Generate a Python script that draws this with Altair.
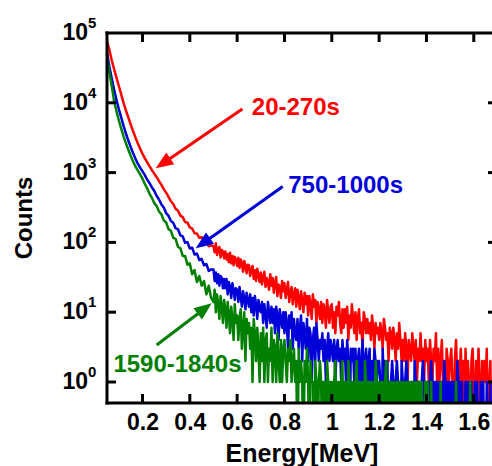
import math
import altair as alt
import pandas as pd

# ---------------- data ----------------
# 0.05 .. 0.49 MeV in 0.01 MeV bins, then 0.50 .. 1.68 MeV in 0.005 MeV bins
COARSE_START, COARSE_STEP, COARSE_N = 0.05, 0.01, 45
FINE_START, FINE_STEP = 0.50, 0.005

RED_20_270 = [
    # coarse 0.05-0.49
    75900, 57500, 40700, 30200, 22900, 17400, 13200, 10000, 7760, 6170,
    4900, 3940, 3200, 2630, 2190, 1860, 1600, 1400, 1230, 1085,
    960, 860, 755, 668, 578, 517, 450, 389, 355, 303,
    284, 242, 230, 196, 192, 164, 158, 135, 134, 116,
    119, 101, 104, 88, 90,
    # fine 0.50-1.68
    88, 72, 97, 66, 80, 86, 61, 78, 74, 59,
    74, 57, 68, 52, 71, 50, 64, 47, 62, 56,
    46, 60, 43, 57, 51, 38, 54, 47, 36, 48,
    47, 33, 41, 46, 30, 40, 28, 42, 34, 27,
    37, 25, 32, 38, 23, 31, 27, 21, 35, 24,
    31, 19, 26, 32, 17, 25, 23, 16, 28, 20,
    26, 16, 21, 27, 14, 19, 23, 13, 18, 22,
    12, 21, 16, 11, 20, 15, 10, 19, 13, 17,
    9, 17, 13, 8, 18, 12, 15, 7, 14, 11,
    8, 14, 7, 13, 11, 6, 15, 10, 7, 12,
    13, 6, 10, 5, 12, 9, 14, 7, 5, 11,
    6, 11, 7, 12, 4, 9, 6, 13, 8, 5,
    10, 4, 8, 11, 5, 7, 3, 10, 8, 5,
    8, 5, 7, 4, 9, 6, 3, 7, 5, 6,
    4, 7, 5, 3, 8, 6, 4, 5, 2, 6,
    5, 3, 6, 4, 2, 5, 3, 7, 4, 2,
    4, 2, 5, 3, 1, 4, 3, 2, 5, 3,
    2, 4, 1, 3, 2, 5, 2, 3, 1, 4,
    2, 3, 1, 4, 2, 1, 3, 2, 5, 1,
    3, 1, 2, 4, 1, 2, 0, 3, 2, 1,
    2, 3, 1, 0, 2, 4, 1, 2, 1, 3,
    1, 2, 0, 3, 1, 2, 1, 0, 2, 3,
    1, 0, 2, 1, 3, 1, 0, 2, 1, 2,
    1, 3, 0, 1, 2, 0, 1,
]
BLUE_750_1000 = [
    52500, 33100, 22400, 15500, 11000, 8130, 6170, 4680, 3630, 2880,
    2340, 1905, 1590, 1345, 1180, 1040, 920, 790, 705, 610,
    545, 462, 412, 349, 315, 262, 240, 203, 191, 160,
    154, 126, 122, 99, 101, 82, 84, 67, 69, 56,
    58, 47, 49, 39, 41,
    41, 28, 37, 26, 35, 24, 33, 31, 22, 30,
    22, 30, 18, 27, 23, 16, 26, 21, 15, 22,
    21, 14, 23, 17, 12, 20, 16, 11, 19, 15,
    12, 18, 10, 16, 9, 17, 13, 8, 15, 11,
    10, 14, 7, 13, 9, 6, 14, 10, 7, 12,
    7, 11, 5, 12, 9, 4, 11, 8, 6, 10,
    5, 10, 7, 3, 9, 6, 10, 3, 8, 5,
    4, 8, 3, 6, 9, 2, 7, 5, 3, 8,
    2, 6, 5, 1, 4, 6, 2, 7, 4, 2,
    4, 3, 5, 2, 4, 1, 3, 5, 2, 4,
    3, 2, 4, 1, 3, 4, 2, 3, 1, 4,
    2, 3, 1, 4, 2, 0, 3, 2, 3, 1,
    3, 1, 2, 3, 0, 2, 4, 1, 2, 3,
    1, 2, 3, 0, 2, 1, 3, 2, 1, 2,
    2, 1, 0, 3, 1, 2, 1, 2, 0, 1,
    1, 2, 1, 0, 1, 2, 1, 1, 0, 2,
    1, 0, 1, 2, 1, 1, 0, 1, 1, 0,
    2, 1, 0, 1, 1, 0, 1, 2, 1, 0,
    1, 1, 0, 1, 2, 1, 0, 1, 1, 0,
    1, 0, 1, 1, 0, 2, 1, 0, 1, 1,
    0, 1, 1, 0, 1, 0, 2, 1, 0, 1,
    1, 0, 0, 1, 1, 0, 1, 0, 1, 0,
    0, 1, 0, 1, 0, 0, 1, 0, 1, 0,
    0, 1, 0, 0, 1, 0, 0,
]
GREEN_1590_1840 = [
    45700, 27500, 17400, 10500, 7590, 5620, 4270, 3310, 2630, 2140,
    1740, 1450, 1225, 1075, 940, 818, 688, 594, 496, 433,
    365, 331, 276, 253, 207, 193, 155, 147, 116, 112,
    86, 83, 64, 64, 48, 50, 35, 40, 27, 33,
    24, 28, 18, 24, 16,
    14, 21, 10, 18, 13, 8, 17, 12, 7, 15,
    11, 6, 14, 9, 5, 12, 8, 4, 13, 7,
    9, 4, 8, 11, 3, 6, 10, 2, 8, 5,
    7, 3, 6, 1, 8, 5, 2, 6, 3, 1,
    5, 2, 6, 1, 4, 5, 1, 3, 2, 6,
    1, 4, 3, 1, 5, 2, 1, 4, 1, 3,
    4, 2, 1, 3, 2, 4, 1, 2, 3, 1,
    2, 0, 3, 1, 2, 1, 0, 2, 1, 3,
    1, 0, 2, 1, 1, 0, 2, 1, 0, 1,
    2, 1, 0, 1, 1, 0, 2, 1, 0, 1,
    1, 0, 1, 2, 0, 1, 1, 0, 1, 2,
    0, 1, 1, 0, 2, 1, 0, 1, 1, 0,
    1, 2, 0, 1, 1, 0, 1, 0, 2, 1,
    0, 1, 1, 0, 1, 1, 0, 2, 1, 0,
    1, 0, 1, 1, 0, 1, 2, 0, 1, 0,
    1, 1, 0, 1, 0, 1, 1, 0, 1, 0,
    1, 0, 1, 0, 1, 1, 0, 1, 0, 1,
    0, 1, 0, 1, 1, 0, 1, 0, 0, 1,
    0, 1, 0, 0, 1, 0, 0, 0, 0, 0,
    0, 0, 1, 0, 0, 0, 0, 0, 0, 0,
    0, 0, 0, 0, 0, 1, 0, 0, 0, 0,
    0, 0, 0, 0, 0, 0, 0, 1, 0, 0,
    0, 0, 0, 0, 0, 0, 0, 0, 0, 0,
    0, 0, 0, 0, 0, 0, 0,
]

SERIES_NAMES = ["20-270s", "750-1000s", "1590-1840s"]
SERIES_COLORS = ["#FF0000", "#0000D8", "#008000"]

# annotation text anchors (energy, counts)
LABEL_E = [0.662, 0.816, 0.077]
LABEL_C = [8510, 643, 1.75]
# arrows: tail and tip (energy, counts), head angle in degrees
ARROW_TAIL_E = [0.622, 0.7926, 0.260]
ARROW_TAIL_C = [8150, 634, 3.39]
ARROW_TIP_E = [0.2558, 0.4249, 0.4925]
ARROW_TIP_C = [1153, 82.2, 13.4]
ARROW_ANGLE = [235.7, 234.7, 52.8]

X_TICKS = [0.2, 0.4, 0.6, 0.8, 1.0, 1.2, 1.4, 1.6]
Y_DECADES = [1, 10, 100, 1000, 10000, 100000]
Y_EXPONENTS = ["0", "1", "2", "3", "4", "5"]

# ---------------- layout ----------------
W, H = 385, 370
FONT = "Liberation Sans"
X_DOMAIN = [0.05, 1.677]
Y_DOMAIN = [0.5, 100000]

XS = alt.Scale(domain=X_DOMAIN, nice=False, zero=False)
YS = alt.Scale(type="log", domain=Y_DOMAIN, nice=False)
XAX = alt.Axis(values=X_TICKS, format="~g", ticks=False, tickSize=0, domain=False,
               grid=False, labelFont=FONT, labelFontSize=23, labelFontWeight="bold",
               labelColor="black", labelPadding=8, labelFlush=False,
               labelOverlap=False, title=None)


def X(f):
    return alt.X(f, type="quantitative", scale=XS, axis=XAX)


def Y(f):
    return alt.Y(f, type="quantitative", scale=YS, axis=None)


def energies(n):
    coarse = [round(COARSE_START + i * COARSE_STEP, 4) for i in range(COARSE_N)]
    fine = [round(FINE_START + i * FINE_STEP, 4) for i in range(n - COARSE_N)]
    return coarse + fine


layers = []
for name, vals, col in zip(SERIES_NAMES, [RED_20_270, BLUE_750_1000, GREEN_1590_1840],
                           SERIES_COLORS):
    df = pd.DataFrame({"energy": energies(len(vals)), "counts": vals})
    layers.append(
        alt.Chart(df)
        .transform_calculate(c="datum.counts > 0 ? datum.counts : 0.05")
        .mark_line(clip=True, color=col, strokeWidth=2.5, strokeJoin="round")
        .encode(x=X("energy"), y=Y("c"))
    )

one = pd.DataFrame({"a": [0]})
frame = [
    alt.Chart(one).mark_rule(color="black", strokeWidth=3, strokeCap="square")
    .encode(x=alt.value(0), y=alt.value(0), y2=alt.value(H)),
    alt.Chart(one).mark_rule(color="black", strokeWidth=3, strokeCap="square")
    .encode(x=alt.value(0), x2=alt.value(W + 2), y=alt.value(0)),
    alt.Chart(one).mark_rule(color="black", strokeWidth=3, strokeCap="square")
    .encode(x=alt.value(0), x2=alt.value(W + 2), y=alt.value(H)),
]

xt = pd.DataFrame({"t": X_TICKS})
yt = pd.DataFrame({"d": Y_DECADES[:-1]})
ticks = [
    alt.Chart(xt).mark_rule(color="black", strokeWidth=3)
    .encode(x=X("t"), y=alt.value(H), y2=alt.value(H - 9)),
    alt.Chart(xt).mark_rule(color="black", strokeWidth=3)
    .encode(x=X("t"), y=alt.value(0), y2=alt.value(9)),
    alt.Chart(yt).mark_rule(color="black", strokeWidth=3)
    .encode(y=Y("d"), x=alt.value(0), x2=alt.value(9)),
    alt.Chart(yt).mark_rule(color="black", strokeWidth=3)
    .encode(y=Y("d"), x=alt.value(W - 4), x2=alt.value(W + 5)),
]

ylab = pd.DataFrame({"d": Y_DECADES, "e": Y_EXPONENTS})
ylabels = [
    alt.Chart(ylab).mark_text(align="right", baseline="middle", font=FONT, fontSize=23,
                              fontWeight="bold", color="black")
    .encode(y=Y("d"), x=alt.value(-19), text=alt.value("10")),
    alt.Chart(ylab).mark_text(align="left", baseline="middle", font=FONT, fontSize=15,
                              fontWeight="bold", color="black", dy=-10)
    .encode(y=Y("d"), x=alt.value(-19), text="e:N"),
]

titles = [
    alt.Chart(one).mark_text(
        text="Counts", angle=270, align="center", baseline="alphabetic", font=FONT,
        fontSize=24, fontWeight="bold", color="black")
    .encode(x=alt.value(-75.5), y=alt.value(H / 2)),
    alt.Chart(one).mark_text(
        text="Energy[MeV]", align="center", baseline="alphabetic", font=FONT,
        fontSize=25, fontWeight="bold", color="black")
    .encode(x=alt.value(195), y=alt.value(429)),
]

ann = []
for i, col in enumerate(SERIES_COLORS):
    te, tc = ARROW_TAIL_E[i], ARROW_TAIL_C[i]
    pe, pc = ARROW_TIP_E[i], ARROW_TIP_C[i]
    # shaft stops under the arrow head (straight line in energy / log-counts space)
    f = 0.88
    ee = te + f * (pe - te)
    ec = 10 ** (math.log10(tc) + f * (math.log10(pc) - math.log10(tc)))
    shaft = pd.DataFrame({"e1": [te], "c1": [tc], "e2": [ee], "c2": [ec]})
    ann.append(
        alt.Chart(shaft).mark_rule(color=col, strokeWidth=3)
        .encode(x=X("e1"), y=Y("c1"), x2=alt.X2("e2"), y2=alt.Y2("c2"))
    )
    head = pd.DataFrame({"e": [pe], "c": [pc], "ang": [ARROW_ANGLE[i]]})
    ann.append(
        alt.Chart(head).mark_point(shape="M0,0L-0.8,2L0.8,2Z", filled=True, size=310,
                                   color=col, opacity=1, strokeWidth=0)
        .encode(x=X("e"), y=Y("c"), angle=alt.Angle("ang:Q", scale=None))
    )
    lab = pd.DataFrame({"e": [LABEL_E[i]], "c": [LABEL_C[i]], "t": [SERIES_NAMES[i]]})
    ann.append(
        alt.Chart(lab).mark_text(align="left", baseline="middle", font=FONT, fontSize=24,
                                 fontWeight="bold", color=col)
        .encode(x=X("e"), y=Y("c"), text="t:N")
    )

chart = alt.layer(*layers, *frame, *ticks, *ylabels, *titles, *ann).properties(
    width=W, height=H,
    autosize=alt.AutoSizeParams(type="none"),
    padding={"left": 107, "top": 33, "right": 0, "bottom": 63},
).configure_view(stroke=None)

chart.save("out.html", embed_options={"renderer": "svg", "actions": False})
